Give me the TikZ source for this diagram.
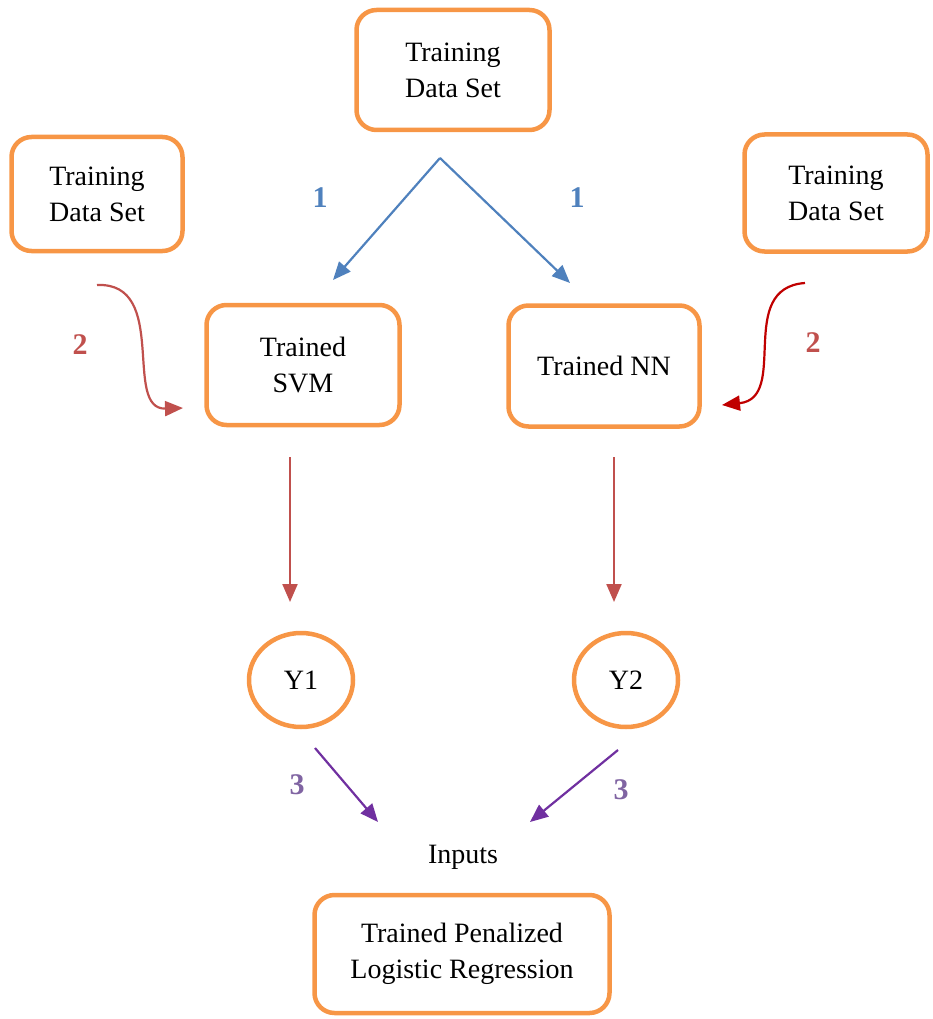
\documentclass[tikz,border=0pt]{standalone}
\usepackage{fontspec}
\setmainfont{Liberation Serif}
\usetikzlibrary{shapes.geometric,arrows.meta}
\definecolor{boxorange}{HTML}{F79646}
\definecolor{stepblue}{HTML}{4F81BD}
\definecolor{stepred}{HTML}{C0504D}
\definecolor{darkred}{HTML}{C00000}
\definecolor{steppurple}{HTML}{7030A0}
\definecolor{numpurple}{HTML}{8064A2}

\begin{document}
\begin{tikzpicture}[x=1pt,y=-1pt,
    every node/.style={font=\fontsize{28}{36}\selectfont},
    box/.style={draw=boxorange,line width=4.5pt,rounded corners=20pt,align=center,inner sep=0pt},
    result/.style={draw=boxorange,line width=4.5pt,ellipse,inner sep=0pt,minimum width=104pt,minimum height=94pt},
    flow/.style={line width=2.2pt,-{Triangle[length=18pt,width=15pt]}},
    num/.style={font=\fontsize{30}{32}\selectfont\bfseries}]
\useasboundingbox (0,0) rectangle (932,1019);

% data and models
\node[box,minimum width=193pt,minimum height=120pt] (dataT) at (453,70) {Training\\Data Set};
\node[box,minimum width=171pt,minimum height=114pt] (dataL) at (97,194) {Training\\Data Set};
\node[box,minimum width=183pt,minimum height=117pt] (dataR) at (836,193) {Training\\Data Set};
\node[box,minimum width=193pt,minimum height=120pt] (svm) at (303,365) {Trained\\SVM};
\node[box,minimum width=191pt,minimum height=121pt] (nn) at (604,366) {Trained NN};
\node[result] (y1) at (301,680) {Y1};
\node[result] (y2) at (626,680) {Y2};
\node (inputs) at (463,857) {Inputs};
\node[box,minimum width=295pt,minimum height=118pt] (plr) at (462,954) {Trained Penalized\\Logistic Regression};

% arrow ends
\coordinate (top) at (440,158);
\coordinate (svmIn) at (333,280);
\coordinate (nnIn) at (570,283);
\coordinate (lStart) at (97,285);
\coordinate (lEnd) at (183,408);
\coordinate (rStart) at (805,283);
\coordinate (rEnd) at (722,405);
\coordinate (svmOut) at (290,457);
\coordinate (y1In) at (290,602);
\coordinate (nnOut) at (614,457);
\coordinate (y2In) at (614,602);
\coordinate (y1Out) at (315,748);
\coordinate (inL) at (378,822);
\coordinate (y2Out) at (618,750);
\coordinate (inR) at (530,822);

\draw[flow,stepblue] (top) -- (svmIn);
\draw[flow,stepblue] (top) -- (nnIn);
\draw[flow,stepred] (lStart) .. controls (170,282) and (122,410) .. (lEnd);
\draw[flow,darkred] (rStart) .. controls (735,288) and (790,398) .. (rEnd);
\draw[flow,stepred] (svmOut) -- (y1In);
\draw[flow,stepred] (nnOut) -- (y2In);
\draw[flow,steppurple] (y1Out) -- (inL);
\draw[flow,steppurple] (y2Out) -- (inR);

\node[num,text=stepblue] (one1) at (320,198) {1};
\node[num,text=stepblue] (one2) at (577,198) {1};
\node[num,text=stepred] (two1) at (80,345) {2};
\node[num,text=stepred] (two2) at (813,343) {2};
\node[num,text=numpurple] (three1) at (297,785) {3};
\node[num,text=numpurple] (three2) at (621,790) {3};
\end{tikzpicture}
\end{document}
